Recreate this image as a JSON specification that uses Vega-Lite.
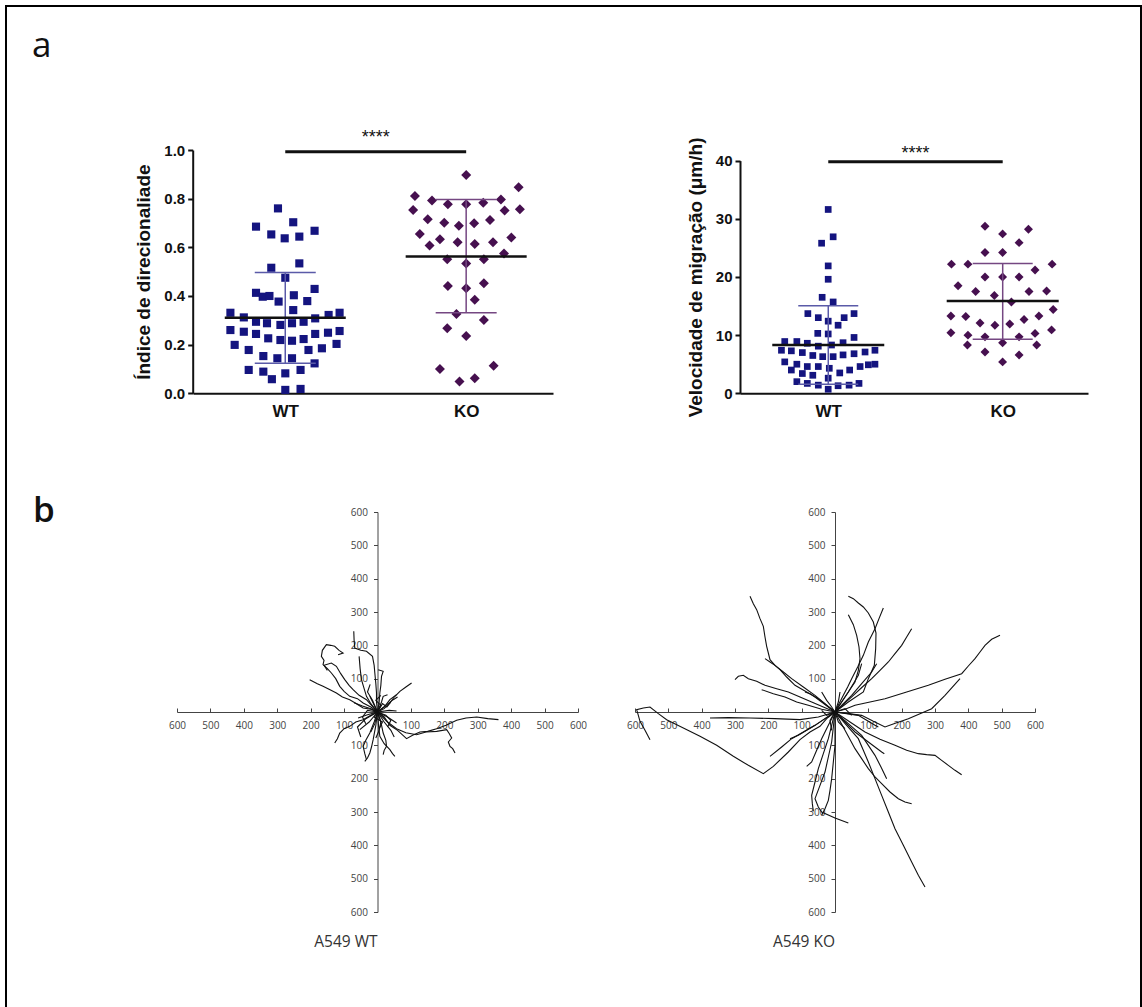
{
"$schema": "https://vega.github.io/schema/vega-lite/v6.json",
"width": 1135, "height": 1010,
"padding": {"left": 6, "top": 6, "right": 1, "bottom": 0},
"autosize": {"type": "none"},
"background": "white",
"config": {"view": {"stroke": "black", "strokeWidth": 2}, "font": "Liberation Sans", "axis": {"grid": false}},
"datasets": {
"a1": [
{"g":"WT","gi":1,"j":-0.12,"v":0.760},{"g":"WT","gi":1,"j":-0.48,"v":0.685},{"g":"WT","gi":1,"j":0.13,"v":0.703},{"g":"WT","gi":1,"j":0.48,"v":0.668},{"g":"WT","gi":1,"j":-0.23,"v":0.653},{"g":"WT","gi":1,"j":-0.01,"v":0.637},{"g":"WT","gi":1,"j":0.23,"v":0.644},{"g":"WT","gi":1,"j":-0.23,"v":0.516},{"g":"WT","gi":1,"j":0.23,"v":0.534},{"g":"WT","gi":1,"j":0.0,"v":0.475},
{"g":"WT","gi":1,"j":-0.48,"v":0.413},{"g":"WT","gi":1,"j":-0.37,"v":0.397},{"g":"WT","gi":1,"j":-0.26,"v":0.400},{"g":"WT","gi":1,"j":-0.11,"v":0.377},{"g":"WT","gi":1,"j":0.14,"v":0.403},{"g":"WT","gi":1,"j":0.48,"v":0.429},{"g":"WT","gi":1,"j":0.36,"v":0.379},{"g":"WT","gi":1,"j":0.13,"v":0.342},{"g":"WT","gi":1,"j":-0.90,"v":0.331},{"g":"WT","gi":1,"j":-0.68,"v":0.312},
{"g":"WT","gi":1,"j":-0.48,"v":0.294},{"g":"WT","gi":1,"j":-0.30,"v":0.288},{"g":"WT","gi":1,"j":-0.08,"v":0.281},{"g":"WT","gi":1,"j":0.11,"v":0.288},{"g":"WT","gi":1,"j":0.30,"v":0.294},{"g":"WT","gi":1,"j":0.49,"v":0.308},{"g":"WT","gi":1,"j":0.71,"v":0.322},{"g":"WT","gi":1,"j":0.89,"v":0.331},{"g":"WT","gi":1,"j":-0.90,"v":0.260},{"g":"WT","gi":1,"j":-0.68,"v":0.253},
{"g":"WT","gi":1,"j":-0.48,"v":0.244},{"g":"WT","gi":1,"j":-0.28,"v":0.226},{"g":"WT","gi":1,"j":-0.08,"v":0.219},{"g":"WT","gi":1,"j":0.11,"v":0.216},{"g":"WT","gi":1,"j":0.30,"v":0.223},{"g":"WT","gi":1,"j":0.49,"v":0.244},{"g":"WT","gi":1,"j":0.70,"v":0.249},{"g":"WT","gi":1,"j":0.89,"v":0.256},{"g":"WT","gi":1,"j":-0.83,"v":0.199},{"g":"WT","gi":1,"j":-0.60,"v":0.178},
{"g":"WT","gi":1,"j":0.38,"v":0.178},{"g":"WT","gi":1,"j":0.60,"v":0.185},{"g":"WT","gi":1,"j":0.84,"v":0.203},{"g":"WT","gi":1,"j":-0.36,"v":0.153},{"g":"WT","gi":1,"j":-0.13,"v":0.144},{"g":"WT","gi":1,"j":0.11,"v":0.144},{"g":"WT","gi":1,"j":0.48,"v":0.123},{"g":"WT","gi":1,"j":-0.60,"v":0.096},{"g":"WT","gi":1,"j":-0.36,"v":0.089},{"g":"WT","gi":1,"j":-0.22,"v":0.058},
{"g":"WT","gi":1,"j":0.0,"v":0.082},{"g":"WT","gi":1,"j":0.25,"v":0.096},{"g":"WT","gi":1,"j":0.0,"v":0.014},{"g":"WT","gi":1,"j":0.25,"v":0.018},
{"g":"KO","gi":2,"j":0.0,"v":0.897},{"g":"KO","gi":2,"j":0.86,"v":0.847},{"g":"KO","gi":2,"j":-0.84,"v":0.811},{"g":"KO","gi":2,"j":-0.56,"v":0.792},{"g":"KO","gi":2,"j":-0.30,"v":0.777},{"g":"KO","gi":2,"j":0.0,"v":0.777},{"g":"KO","gi":2,"j":0.28,"v":0.783},{"g":"KO","gi":2,"j":0.57,"v":0.797},{"g":"KO","gi":2,"j":-0.87,"v":0.753},{"g":"KO","gi":2,"j":0.63,"v":0.751},
{"g":"KO","gi":2,"j":0.88,"v":0.756},{"g":"KO","gi":2,"j":-0.63,"v":0.715},{"g":"KO","gi":2,"j":-0.36,"v":0.701},{"g":"KO","gi":2,"j":-0.12,"v":0.689},{"g":"KO","gi":2,"j":0.13,"v":0.699},{"g":"KO","gi":2,"j":0.39,"v":0.712},{"g":"KO","gi":2,"j":-0.76,"v":0.655},{"g":"KO","gi":2,"j":-0.60,"v":0.607},{"g":"KO","gi":2,"j":-0.43,"v":0.633},{"g":"KO","gi":2,"j":-0.14,"v":0.621},
{"g":"KO","gi":2,"j":0.14,"v":0.614},{"g":"KO","gi":2,"j":0.44,"v":0.621},{"g":"KO","gi":2,"j":0.74,"v":0.640},{"g":"KO","gi":2,"j":0.62,"v":0.575},{"g":"KO","gi":2,"j":-0.31,"v":0.551},{"g":"KO","gi":2,"j":0.0,"v":0.534},{"g":"KO","gi":2,"j":0.29,"v":0.551},{"g":"KO","gi":2,"j":-0.30,"v":0.441},{"g":"KO","gi":2,"j":0.0,"v":0.432},{"g":"KO","gi":2,"j":0.29,"v":0.452},
{"g":"KO","gi":2,"j":0.14,"v":0.384},{"g":"KO","gi":2,"j":-0.16,"v":0.326},{"g":"KO","gi":2,"j":0.29,"v":0.301},{"g":"KO","gi":2,"j":-0.31,"v":0.267},{"g":"KO","gi":2,"j":0.0,"v":0.236},{"g":"KO","gi":2,"j":-0.43,"v":0.100},{"g":"KO","gi":2,"j":0.45,"v":0.113},{"g":"KO","gi":2,"j":-0.11,"v":0.048},{"g":"KO","gi":2,"j":0.14,"v":0.062}
],
"a2": [
{"g":"WT","gi":1,"j":0.0,"v":31.6},{"g":"WT","gi":1,"j":0.09,"v":26.9},{"g":"WT","gi":1,"j":-0.12,"v":25.8},{"g":"WT","gi":1,"j":0.0,"v":21.9},{"g":"WT","gi":1,"j":0.0,"v":19.6},{"g":"WT","gi":1,"j":-0.11,"v":16.5},{"g":"WT","gi":1,"j":0.09,"v":15.7},{"g":"WT","gi":1,"j":-0.37,"v":13.7},{"g":"WT","gi":1,"j":-0.18,"v":13.0},{"g":"WT","gi":1,"j":0.0,"v":12.4},
{"g":"WT","gi":1,"j":0.18,"v":11.7},{"g":"WT","gi":1,"j":0.29,"v":13.0},{"g":"WT","gi":1,"j":0.47,"v":13.7},{"g":"WT","gi":1,"j":-0.19,"v":10.3},{"g":"WT","gi":1,"j":0.0,"v":10.2},{"g":"WT","gi":1,"j":-0.79,"v":8.9},{"g":"WT","gi":1,"j":-0.57,"v":8.9},{"g":"WT","gi":1,"j":-0.38,"v":8.6},{"g":"WT","gi":1,"j":-0.18,"v":8.1},{"g":"WT","gi":1,"j":0.06,"v":8.3},
{"g":"WT","gi":1,"j":0.27,"v":8.7},{"g":"WT","gi":1,"j":0.47,"v":9.6},{"g":"WT","gi":1,"j":-0.85,"v":7.4},{"g":"WT","gi":1,"j":-0.67,"v":7.3},{"g":"WT","gi":1,"j":-0.47,"v":7.0},{"g":"WT","gi":1,"j":-0.28,"v":6.5},{"g":"WT","gi":1,"j":-0.10,"v":6.3},{"g":"WT","gi":1,"j":0.09,"v":6.3},{"g":"WT","gi":1,"j":0.27,"v":6.6},{"g":"WT","gi":1,"j":0.47,"v":6.8},
{"g":"WT","gi":1,"j":0.67,"v":7.1},{"g":"WT","gi":1,"j":0.85,"v":7.4},{"g":"WT","gi":1,"j":-0.79,"v":5.4},{"g":"WT","gi":1,"j":-0.57,"v":5.0},{"g":"WT","gi":1,"j":-0.38,"v":4.6},{"g":"WT","gi":1,"j":-0.18,"v":4.6},{"g":"WT","gi":1,"j":0.02,"v":4.3},{"g":"WT","gi":1,"j":0.21,"v":3.5},{"g":"WT","gi":1,"j":0.39,"v":4.0},{"g":"WT","gi":1,"j":0.58,"v":4.6},
{"g":"WT","gi":1,"j":0.73,"v":4.9},{"g":"WT","gi":1,"j":0.85,"v":5.0},{"g":"WT","gi":1,"j":-0.67,"v":4.0},{"g":"WT","gi":1,"j":-0.47,"v":3.4},{"g":"WT","gi":1,"j":-0.28,"v":3.1},{"g":"WT","gi":1,"j":0.0,"v":2.6},{"g":"WT","gi":1,"j":-0.57,"v":2.0},{"g":"WT","gi":1,"j":-0.38,"v":1.7},{"g":"WT","gi":1,"j":-0.18,"v":1.4},{"g":"WT","gi":1,"j":0.0,"v":0.7},
{"g":"WT","gi":1,"j":0.18,"v":1.3},{"g":"WT","gi":1,"j":0.38,"v":1.4},{"g":"WT","gi":1,"j":0.56,"v":1.7},
{"g":"KO","gi":2,"j":-0.32,"v":28.7},{"g":"KO","gi":2,"j":0.47,"v":28.2},{"g":"KO","gi":2,"j":0.0,"v":27.4},{"g":"KO","gi":2,"j":0.30,"v":25.9},{"g":"KO","gi":2,"j":-0.32,"v":24.2},{"g":"KO","gi":2,"j":0.0,"v":24.2},{"g":"KO","gi":2,"j":-0.93,"v":22.2},{"g":"KO","gi":2,"j":-0.63,"v":22.2},{"g":"KO","gi":2,"j":0.90,"v":22.2},{"g":"KO","gi":2,"j":0.59,"v":21.2},
{"g":"KO","gi":2,"j":-0.32,"v":20.0},{"g":"KO","gi":2,"j":0.0,"v":20.0},{"g":"KO","gi":2,"j":0.30,"v":20.0},{"g":"KO","gi":2,"j":-0.81,"v":18.5},{"g":"KO","gi":2,"j":-0.49,"v":17.5},{"g":"KO","gi":2,"j":-0.15,"v":16.8},{"g":"KO","gi":2,"j":0.48,"v":17.5},{"g":"KO","gi":2,"j":0.80,"v":17.6},{"g":"KO","gi":2,"j":0.16,"v":15.7},{"g":"KO","gi":2,"j":0.92,"v":14.4},
{"g":"KO","gi":2,"j":-0.94,"v":13.3},{"g":"KO","gi":2,"j":-0.67,"v":13.2},{"g":"KO","gi":2,"j":-0.41,"v":12.1},{"g":"KO","gi":2,"j":-0.14,"v":11.7},{"g":"KO","gi":2,"j":0.13,"v":11.9},{"g":"KO","gi":2,"j":0.39,"v":12.7},{"g":"KO","gi":2,"j":0.66,"v":13.3},{"g":"KO","gi":2,"j":0.89,"v":10.9},{"g":"KO","gi":2,"j":-0.94,"v":10.4},{"g":"KO","gi":2,"j":-0.63,"v":10.0},
{"g":"KO","gi":2,"j":-0.32,"v":9.7},{"g":"KO","gi":2,"j":0.0,"v":8.7},{"g":"KO","gi":2,"j":0.30,"v":9.7},{"g":"KO","gi":2,"j":0.59,"v":10.3},{"g":"KO","gi":2,"j":-0.64,"v":8.3},{"g":"KO","gi":2,"j":0.62,"v":8.3},{"g":"KO","gi":2,"j":-0.32,"v":7.1},{"g":"KO","gi":2,"j":0.30,"v":6.6},{"g":"KO","gi":2,"j":0.0,"v":5.4}
],
"a1s": [{"g":"WT","gi":1,"m":0.311,"lo":0.123,"hi":0.497},{"g":"KO","gi":2,"m":0.562,"lo":0.331,"hi":0.797}],
"a2s": [{"g":"WT","gi":1,"m":8.3,"lo":1.55,"hi":15.05},{"g":"KO","gi":2,"m":15.86,"lo":9.3,"hi":22.3}],
"wt": [
{"t":1,"s":1,"x":0,"y":0},{"t":1,"s":2,"x":20,"y":-15},{"t":1,"s":3,"x":37,"y":-40},{"t":1,"s":4,"x":60,"y":-55},{"t":1,"s":5,"x":87,"y":-80},{"t":1,"s":6,"x":105,"y":-70},{"t":1,"s":7,"x":127,"y":-60},{"t":1,"s":8,"x":150,"y":-58},{"t":1,"s":9,"x":177,"y":-50},{"t":1,"s":10,"x":205,"y":-40},{"t":1,"s":11,"x":237,"y":-25},{"t":1,"s":12,"x":265,"y":-18},{"t":1,"s":13,"x":297,"y":-15},{"t":1,"s":14,"x":330,"y":-20},{"t":1,"s":15,"x":362,"y":-23},
{"t":2,"s":1,"x":0,"y":0},{"t":2,"s":2,"x":30,"y":-30},{"t":2,"s":3,"x":57,"y":-50},{"t":2,"s":4,"x":85,"y":-62},{"t":2,"s":5,"x":117,"y":-68},{"t":2,"s":6,"x":145,"y":-60},{"t":2,"s":7,"x":177,"y":-58},{"t":2,"s":8,"x":207,"y":-53},{"t":2,"s":9,"x":215,"y":-65},{"t":2,"s":10,"x":222,"y":-78},{"t":2,"s":11,"x":212,"y":-90},{"t":2,"s":12,"x":217,"y":-103},{"t":2,"s":13,"x":225,"y":-110},{"t":2,"s":14,"x":232,"y":-123},
{"t":3,"s":1,"x":0,"y":0},{"t":3,"s":2,"x":-20,"y":15},{"t":3,"s":3,"x":-43,"y":27},{"t":3,"s":4,"x":-60,"y":40},{"t":3,"s":5,"x":-83,"y":47},{"t":3,"s":6,"x":-100,"y":62},{"t":3,"s":7,"x":-113,"y":77},{"t":3,"s":8,"x":-125,"y":100},{"t":3,"s":9,"x":-138,"y":117},{"t":3,"s":10,"x":-150,"y":130},{"t":3,"s":11,"x":-163,"y":142},{"t":3,"s":12,"x":-160,"y":155},{"t":3,"s":13,"x":-168,"y":167},{"t":3,"s":14,"x":-165,"y":185},{"t":3,"s":15,"x":-153,"y":202},{"t":3,"s":16,"x":-140,"y":200},{"t":3,"s":17,"x":-128,"y":197},{"t":3,"s":18,"x":-115,"y":185},{"t":3,"s":19,"x":-103,"y":177},{"t":3,"s":20,"x":-118,"y":172},
{"t":4,"s":1,"x":0,"y":0},{"t":4,"s":2,"x":-18,"y":20},{"t":4,"s":3,"x":-33,"y":37},{"t":4,"s":4,"x":-55,"y":50},{"t":4,"s":5,"x":-73,"y":67},{"t":4,"s":6,"x":-85,"y":80},{"t":4,"s":7,"x":-98,"y":97},{"t":4,"s":8,"x":-110,"y":115},{"t":4,"s":9,"x":-123,"y":137},{"t":4,"s":10,"x":-138,"y":147},{"t":4,"s":11,"x":-160,"y":140},{"t":4,"s":12,"x":-150,"y":125},
{"t":5,"s":1,"x":0,"y":0},{"t":5,"s":2,"x":-3,"y":30},{"t":5,"s":3,"x":-3,"y":57},{"t":5,"s":4,"x":-5,"y":85},{"t":5,"s":5,"x":-8,"y":117},{"t":5,"s":6,"x":-10,"y":140},{"t":5,"s":7,"x":-15,"y":167},{"t":5,"s":8,"x":-33,"y":182},{"t":5,"s":9,"x":-50,"y":185},{"t":5,"s":10,"x":-68,"y":192},{"t":5,"s":11,"x":-70,"y":215},{"t":5,"s":12,"x":-71,"y":242},
{"t":6,"s":1,"x":0,"y":0},{"t":6,"s":2,"x":-20,"y":25},{"t":6,"s":3,"x":-33,"y":47},{"t":6,"s":4,"x":-40,"y":70},{"t":6,"s":5,"x":-48,"y":97},{"t":6,"s":6,"x":-52,"y":130},{"t":6,"s":7,"x":-55,"y":167},
{"t":7,"s":1,"x":0,"y":0},{"t":7,"s":2,"x":5,"y":30},{"t":7,"s":3,"x":7,"y":57},{"t":7,"s":4,"x":10,"y":80},{"t":7,"s":5,"x":12,"y":107},{"t":7,"s":6,"x":17,"y":122},{"t":7,"s":7,"x":2,"y":127},
{"t":8,"s":1,"x":0,"y":0},{"t":8,"s":2,"x":20,"y":10},{"t":8,"s":3,"x":37,"y":27},{"t":8,"s":4,"x":50,"y":45},{"t":8,"s":5,"x":67,"y":62},{"t":8,"s":6,"x":85,"y":75},{"t":8,"s":7,"x":102,"y":87},
{"t":9,"s":1,"x":0,"y":0},{"t":9,"s":2,"x":20,"y":15},{"t":9,"s":3,"x":37,"y":37},{"t":9,"s":4,"x":57,"y":52},
{"t":10,"s":1,"x":0,"y":0},{"t":10,"s":2,"x":-20,"y":-10},{"t":10,"s":3,"x":-43,"y":-23},{"t":10,"s":4,"x":-65,"y":-30},{"t":10,"s":5,"x":-83,"y":-43},{"t":10,"s":6,"x":-100,"y":-50},{"t":10,"s":7,"x":-113,"y":-63},{"t":10,"s":8,"x":-120,"y":-80},{"t":10,"s":9,"x":-128,"y":-93},
{"t":11,"s":1,"x":0,"y":0},{"t":11,"s":2,"x":-20,"y":8},{"t":11,"s":3,"x":-43,"y":12},{"t":11,"s":4,"x":-63,"y":25},{"t":11,"s":5,"x":-83,"y":37},{"t":11,"s":6,"x":-105,"y":45},{"t":11,"s":7,"x":-123,"y":57},{"t":11,"s":8,"x":-145,"y":68},{"t":11,"s":9,"x":-163,"y":77},{"t":11,"s":10,"x":-180,"y":85},{"t":11,"s":11,"x":-203,"y":97},
{"t":12,"s":1,"x":0,"y":0},{"t":12,"s":2,"x":-10,"y":-30},{"t":12,"s":3,"x":-23,"y":-63},{"t":12,"s":4,"x":-35,"y":-85},{"t":12,"s":5,"x":-43,"y":-103},{"t":12,"s":6,"x":-38,"y":-125},{"t":12,"s":7,"x":-33,"y":-143},
{"t":13,"s":1,"x":0,"y":0},{"t":13,"s":2,"x":-5,"y":-40},{"t":13,"s":3,"x":-13,"y":-83},{"t":13,"s":4,"x":-18,"y":-105},{"t":13,"s":5,"x":-23,"y":-123},{"t":13,"s":6,"x":-30,"y":-138},{"t":13,"s":7,"x":-38,"y":-148},
{"t":14,"s":1,"x":0,"y":0},{"t":14,"s":2,"x":10,"y":-30},{"t":14,"s":3,"x":17,"y":-63},{"t":14,"s":4,"x":25,"y":-85},{"t":14,"s":5,"x":27,"y":-103},{"t":14,"s":6,"x":20,"y":-115},{"t":14,"s":7,"x":17,"y":-128},
{"t":15,"s":1,"x":0,"y":0},{"t":15,"s":2,"x":3,"y":-40},{"t":15,"s":3,"x":7,"y":-73},{"t":15,"s":4,"x":20,"y":-95},{"t":15,"s":5,"x":37,"y":-113},{"t":15,"s":6,"x":45,"y":-125},{"t":15,"s":7,"x":52,"y":-133},
{"t":16,"s":1,"x":0,"y":0},{"t":16,"s":2,"x":25,"y":20},{"t":16,"s":3,"x":47,"y":37},{"t":16,"s":4,"x":60,"y":45},
{"t":17,"s":1,"x":0,"y":0},{"t":17,"s":2,"x":30,"y":-15},{"t":17,"s":3,"x":57,"y":-33},
{"t":18,"s":1,"x":0,"y":0},{"t":18,"s":2,"x":-25,"y":-30},{"t":18,"s":3,"x":-53,"y":-53},
{"t":19,"s":1,"x":0,"y":0},{"t":19,"s":2,"x":-12,"y":25},{"t":19,"s":3,"x":-23,"y":47},
{"t":20,"s":1,"x":0,"y":0},{"t":20,"s":2,"x":12,"y":30},{"t":20,"s":3,"x":17,"y":47},{"t":20,"s":4,"x":30,"y":52},
{"t":21,"s":1,"x":0,"y":0},{"t":21,"s":2,"x":35,"y":5},{"t":21,"s":3,"x":57,"y":3},
{"t":22,"s":1,"x":0,"y":0},{"t":22,"s":2,"x":-30,"y":-8},{"t":22,"s":3,"x":-58,"y":-18},
{"t":23,"s":1,"x":0,"y":0},{"t":23,"s":2,"x":-20,"y":10},{"t":23,"s":3,"x":-45,"y":18},{"t":23,"s":4,"x":-70,"y":28},
{"t":24,"s":1,"x":0,"y":0},{"t":24,"s":2,"x":10,"y":-30},{"t":24,"s":3,"x":5,"y":-55},{"t":24,"s":4,"x":-5,"y":-78},
{"t":25,"s":1,"x":0,"y":0},{"t":25,"s":2,"x":-8,"y":-35},{"t":25,"s":3,"x":-20,"y":-60},
{"t":26,"s":1,"x":0,"y":0},{"t":26,"s":2,"x":20,"y":-30},{"t":26,"s":3,"x":40,"y":-55},{"t":26,"s":4,"x":50,"y":-75},
{"t":27,"s":1,"x":0,"y":0},{"t":27,"s":2,"x":-35,"y":-20},{"t":27,"s":3,"x":-60,"y":-45},{"t":27,"s":4,"x":-50,"y":-75},
{"t":28,"s":1,"x":0,"y":0},{"t":28,"s":2,"x":15,"y":25},{"t":28,"s":3,"x":28,"y":15},{"t":28,"s":4,"x":40,"y":30},
{"t":29,"s":1,"x":0,"y":0},{"t":29,"s":2,"x":-15,"y":35},{"t":29,"s":3,"x":-30,"y":60},{"t":29,"s":4,"x":-22,"y":83},
{"t":30,"s":1,"x":0,"y":0},{"t":30,"s":2,"x":25,"y":-10},{"t":30,"s":3,"x":40,"y":-25},{"t":30,"s":4,"x":30,"y":-45},
{"t":31,"s":1,"x":0,"y":0},{"t":31,"s":2,"x":-30,"y":5},{"t":31,"s":3,"x":-45,"y":-15},{"t":31,"s":4,"x":-35,"y":-35},
{"t":32,"s":1,"x":0,"y":0},{"t":32,"s":2,"x":10,"y":20},{"t":32,"s":3,"x":-5,"y":35},{"t":32,"s":4,"x":10,"y":50},
{"t":33,"s":1,"x":0,"y":0},{"t":33,"s":2,"x":-10,"y":-15},{"t":33,"s":3,"x":15,"y":-30},{"t":33,"s":4,"x":5,"y":-50}
],
"ko": [
{"t":1,"s":1,"x":0,"y":0},{"t":1,"s":2,"x":-25,"y":-20},{"t":1,"s":3,"x":-45,"y":-43},{"t":1,"s":4,"x":-75,"y":-60},{"t":1,"s":5,"x":-105,"y":-83},{"t":1,"s":6,"x":-140,"y":-120},{"t":1,"s":7,"x":-185,"y":-163},{"t":1,"s":8,"x":-215,"y":-185},{"t":1,"s":9,"x":-260,"y":-160},{"t":1,"s":10,"x":-305,"y":-133},{"t":1,"s":11,"x":-355,"y":-100},{"t":1,"s":12,"x":-405,"y":-73},{"t":1,"s":13,"x":-455,"y":-48},{"t":1,"s":14,"x":-505,"y":-23},{"t":1,"s":15,"x":-530,"y":-5},{"t":1,"s":16,"x":-555,"y":15},{"t":1,"s":17,"x":-575,"y":12},{"t":1,"s":18,"x":-595,"y":7},{"t":1,"s":19,"x":-590,"y":-10},{"t":1,"s":20,"x":-585,"y":-28},{"t":1,"s":21,"x":-570,"y":-55},{"t":1,"s":22,"x":-555,"y":-83},
{"t":2,"s":1,"x":0,"y":0},{"t":2,"s":2,"x":-50,"y":-15},{"t":2,"s":3,"x":-105,"y":-23},{"t":2,"s":4,"x":-180,"y":-20},{"t":2,"s":5,"x":-255,"y":-18},{"t":2,"s":6,"x":-320,"y":-17},{"t":2,"s":7,"x":-375,"y":-18},
{"t":3,"s":1,"x":0,"y":0},{"t":3,"s":2,"x":-25,"y":20},{"t":3,"s":3,"x":-50,"y":40},{"t":3,"s":4,"x":-85,"y":60},{"t":3,"s":5,"x":-120,"y":80},{"t":3,"s":6,"x":-145,"y":105},{"t":3,"s":7,"x":-165,"y":127},{"t":3,"s":8,"x":-180,"y":140},{"t":3,"s":9,"x":-195,"y":157},{"t":3,"s":10,"x":-200,"y":177},{"t":3,"s":11,"x":-205,"y":197},{"t":3,"s":12,"x":-210,"y":225},{"t":3,"s":13,"x":-215,"y":257},{"t":3,"s":14,"x":-225,"y":280},{"t":3,"s":15,"x":-235,"y":307},{"t":3,"s":16,"x":-245,"y":325},{"t":3,"s":17,"x":-255,"y":347},
{"t":4,"s":1,"x":0,"y":0},{"t":4,"s":2,"x":-35,"y":15},{"t":4,"s":3,"x":-70,"y":30},{"t":4,"s":4,"x":-105,"y":45},{"t":4,"s":5,"x":-140,"y":60},{"t":4,"s":6,"x":-175,"y":70},{"t":4,"s":7,"x":-210,"y":80},{"t":4,"s":8,"x":-235,"y":92},{"t":4,"s":9,"x":-260,"y":100},{"t":4,"s":10,"x":-275,"y":110},{"t":4,"s":11,"x":-290,"y":107},{"t":4,"s":12,"x":-300,"y":97},
{"t":5,"s":1,"x":0,"y":0},{"t":5,"s":2,"x":-40,"y":8},{"t":5,"s":3,"x":-80,"y":20},{"t":5,"s":4,"x":-115,"y":30},{"t":5,"s":5,"x":-150,"y":45},{"t":5,"s":6,"x":-185,"y":55},{"t":5,"s":7,"x":-220,"y":67},
{"t":6,"s":1,"x":0,"y":0},{"t":6,"s":2,"x":-20,"y":15},{"t":6,"s":3,"x":-40,"y":30},{"t":6,"s":4,"x":-60,"y":45},{"t":6,"s":5,"x":-75,"y":55},{"t":6,"s":6,"x":-90,"y":60},
{"t":7,"s":1,"x":0,"y":0},{"t":7,"s":2,"x":-30,"y":25},{"t":7,"s":3,"x":-60,"y":50},{"t":7,"s":4,"x":-95,"y":75},{"t":7,"s":5,"x":-130,"y":100},{"t":7,"s":6,"x":-155,"y":120},{"t":7,"s":7,"x":-180,"y":140},{"t":7,"s":8,"x":-195,"y":150},{"t":7,"s":9,"x":-210,"y":160},
{"t":8,"s":1,"x":0,"y":0},{"t":8,"s":2,"x":40,"y":30},{"t":8,"s":3,"x":85,"y":60},{"t":8,"s":4,"x":100,"y":100},{"t":8,"s":5,"x":118,"y":140},{"t":8,"s":6,"x":122,"y":190},{"t":8,"s":7,"x":123,"y":237},{"t":8,"s":8,"x":115,"y":270},{"t":8,"s":9,"x":100,"y":297},{"t":8,"s":10,"x":85,"y":315},{"t":8,"s":11,"x":70,"y":327},{"t":8,"s":12,"x":55,"y":340},{"t":8,"s":13,"x":40,"y":347},
{"t":9,"s":1,"x":0,"y":0},{"t":9,"s":2,"x":30,"y":45},{"t":9,"s":3,"x":60,"y":90},{"t":9,"s":4,"x":70,"y":125},{"t":9,"s":5,"x":75,"y":160},{"t":9,"s":6,"x":72,"y":195},{"t":9,"s":7,"x":65,"y":230},{"t":9,"s":8,"x":55,"y":262},{"t":9,"s":9,"x":40,"y":292},
{"t":10,"s":1,"x":0,"y":0},{"t":10,"s":2,"x":12,"y":25},{"t":10,"s":3,"x":25,"y":50},{"t":10,"s":4,"x":38,"y":75},{"t":10,"s":5,"x":50,"y":100},{"t":10,"s":6,"x":68,"y":135},{"t":10,"s":7,"x":85,"y":170},{"t":10,"s":8,"x":100,"y":210},{"t":10,"s":9,"x":120,"y":250},{"t":10,"s":10,"x":132,"y":280},{"t":10,"s":11,"x":145,"y":312},
{"t":11,"s":1,"x":0,"y":0},{"t":11,"s":2,"x":28,"y":25},{"t":11,"s":3,"x":55,"y":50},{"t":11,"s":4,"x":82,"y":75},{"t":11,"s":5,"x":110,"y":100},{"t":11,"s":6,"x":135,"y":125},{"t":11,"s":7,"x":160,"y":150},{"t":11,"s":8,"x":180,"y":175},{"t":11,"s":9,"x":200,"y":200},{"t":11,"s":10,"x":215,"y":225},{"t":11,"s":11,"x":230,"y":250},
{"t":12,"s":1,"x":0,"y":0},{"t":12,"s":2,"x":30,"y":8},{"t":12,"s":3,"x":60,"y":20},{"t":12,"s":4,"x":105,"y":30},{"t":12,"s":5,"x":150,"y":40},{"t":12,"s":6,"x":215,"y":60},{"t":12,"s":7,"x":280,"y":80},{"t":12,"s":8,"x":330,"y":98},{"t":12,"s":9,"x":380,"y":115},{"t":12,"s":10,"x":400,"y":138},{"t":12,"s":11,"x":420,"y":160},{"t":12,"s":12,"x":435,"y":180},{"t":12,"s":13,"x":450,"y":200},{"t":12,"s":14,"x":470,"y":218},{"t":12,"s":15,"x":495,"y":230},
{"t":13,"s":1,"x":0,"y":0},{"t":13,"s":2,"x":40,"y":-5},{"t":13,"s":3,"x":80,"y":-10},{"t":13,"s":4,"x":115,"y":-28},{"t":13,"s":5,"x":150,"y":-45},{"t":13,"s":6,"x":185,"y":-32},{"t":13,"s":7,"x":220,"y":-20},{"t":13,"s":8,"x":255,"y":-5},{"t":13,"s":9,"x":290,"y":10},{"t":13,"s":10,"x":330,"y":50},{"t":13,"s":11,"x":375,"y":100},
{"t":14,"s":1,"x":0,"y":0},{"t":14,"s":2,"x":45,"y":-30},{"t":14,"s":3,"x":90,"y":-60},{"t":14,"s":4,"x":135,"y":-82},{"t":14,"s":5,"x":180,"y":-100},{"t":14,"s":6,"x":215,"y":-115},{"t":14,"s":7,"x":250,"y":-125},{"t":14,"s":8,"x":275,"y":-128},{"t":14,"s":9,"x":300,"y":-130},{"t":14,"s":10,"x":320,"y":-145},{"t":14,"s":11,"x":340,"y":-160},{"t":14,"s":12,"x":360,"y":-175},{"t":14,"s":13,"x":380,"y":-188},
{"t":15,"s":1,"x":0,"y":0},{"t":15,"s":2,"x":30,"y":-55},{"t":15,"s":3,"x":60,"y":-110},{"t":15,"s":4,"x":80,"y":-140},{"t":15,"s":5,"x":100,"y":-170},{"t":15,"s":6,"x":120,"y":-195},{"t":15,"s":7,"x":140,"y":-215},{"t":15,"s":8,"x":165,"y":-240},{"t":15,"s":9,"x":190,"y":-260},{"t":15,"s":10,"x":210,"y":-270},{"t":15,"s":11,"x":230,"y":-275},
{"t":16,"s":1,"x":0,"y":0},{"t":16,"s":2,"x":35,"y":-40},{"t":16,"s":3,"x":70,"y":-80},{"t":16,"s":4,"x":85,"y":-115},{"t":16,"s":5,"x":100,"y":-150},{"t":16,"s":6,"x":120,"y":-200},{"t":16,"s":7,"x":140,"y":-250},{"t":16,"s":8,"x":160,"y":-300},{"t":16,"s":9,"x":180,"y":-350},{"t":16,"s":10,"x":205,"y":-400},{"t":16,"s":11,"x":230,"y":-450},{"t":16,"s":12,"x":250,"y":-490},{"t":16,"s":13,"x":270,"y":-525},
{"t":17,"s":1,"x":0,"y":0},{"t":17,"s":2,"x":40,"y":-35},{"t":17,"s":3,"x":80,"y":-70},{"t":17,"s":4,"x":100,"y":-100},{"t":17,"s":5,"x":120,"y":-130},{"t":17,"s":6,"x":138,"y":-165},{"t":17,"s":7,"x":155,"y":-200},
{"t":18,"s":1,"x":0,"y":0},{"t":18,"s":2,"x":-10,"y":-40},{"t":18,"s":3,"x":-20,"y":-80},{"t":18,"s":4,"x":-35,"y":-125},{"t":18,"s":5,"x":-50,"y":-170},{"t":18,"s":6,"x":-60,"y":-210},{"t":18,"s":7,"x":-70,"y":-250},{"t":18,"s":8,"x":-68,"y":-275},{"t":18,"s":9,"x":-65,"y":-298},
{"t":19,"s":1,"x":0,"y":0},{"t":19,"s":2,"x":-5,"y":-45},{"t":19,"s":3,"x":-10,"y":-90},{"t":19,"s":4,"x":-20,"y":-135},{"t":19,"s":5,"x":-30,"y":-180},{"t":19,"s":6,"x":-45,"y":-220},{"t":19,"s":7,"x":-60,"y":-260},{"t":19,"s":8,"x":-50,"y":-285},{"t":19,"s":9,"x":-40,"y":-300},{"t":19,"s":10,"x":0,"y":-318},{"t":19,"s":11,"x":40,"y":-333},
{"t":20,"s":1,"x":0,"y":0},{"t":20,"s":2,"x":0,"y":-50},{"t":20,"s":3,"x":0,"y":-100},{"t":20,"s":4,"x":-5,"y":-150},{"t":20,"s":5,"x":-10,"y":-200},{"t":20,"s":6,"x":-15,"y":-235},{"t":20,"s":7,"x":-20,"y":-265},{"t":20,"s":8,"x":-30,"y":-290},{"t":20,"s":9,"x":-40,"y":-310},
{"t":21,"s":1,"x":0,"y":0},{"t":21,"s":2,"x":-30,"y":-20},{"t":21,"s":3,"x":-60,"y":-40},{"t":21,"s":4,"x":-95,"y":-60},{"t":21,"s":5,"x":-130,"y":-80},{"t":21,"s":6,"x":-160,"y":-105},{"t":21,"s":7,"x":-195,"y":-133},
{"t":22,"s":1,"x":0,"y":0},{"t":22,"s":2,"x":-30,"y":-20},{"t":22,"s":3,"x":-60,"y":-40},{"t":22,"s":4,"x":-85,"y":-55},{"t":22,"s":5,"x":-110,"y":-70},{"t":22,"s":6,"x":-135,"y":-80},
{"t":23,"s":1,"x":0,"y":0},{"t":23,"s":2,"x":-20,"y":-40},{"t":23,"s":3,"x":-40,"y":-80},{"t":23,"s":4,"x":-55,"y":-115},{"t":23,"s":5,"x":-70,"y":-150},{"t":23,"s":6,"x":-85,"y":-163},
{"t":24,"s":1,"x":0,"y":0},{"t":24,"s":2,"x":30,"y":-30},{"t":24,"s":3,"x":60,"y":-60},{"t":24,"s":4,"x":100,"y":-90},{"t":24,"s":5,"x":140,"y":-120},{"t":24,"s":6,"x":148,"y":-125},
{"t":25,"s":1,"x":0,"y":0},{"t":25,"s":2,"x":35,"y":-5},{"t":25,"s":3,"x":70,"y":-10},{"t":25,"s":4,"x":95,"y":-25},{"t":25,"s":5,"x":120,"y":-40},{"t":25,"s":6,"x":130,"y":-45},
{"t":26,"s":1,"x":0,"y":0},{"t":26,"s":2,"x":20,"y":30},{"t":26,"s":3,"x":40,"y":60},{"t":26,"s":4,"x":55,"y":85},{"t":26,"s":5,"x":70,"y":110},{"t":26,"s":6,"x":80,"y":145},
{"t":27,"s":1,"x":0,"y":0},{"t":27,"s":2,"x":25,"y":25},{"t":27,"s":3,"x":50,"y":50},{"t":27,"s":4,"x":80,"y":85},{"t":27,"s":5,"x":110,"y":120},{"t":27,"s":6,"x":125,"y":145},
{"t":28,"s":1,"x":0,"y":0},{"t":28,"s":2,"x":-12,"y":18},{"t":28,"s":3,"x":-25,"y":35},{"t":28,"s":4,"x":-40,"y":60},
{"t":29,"s":1,"x":0,"y":0},{"t":29,"s":2,"x":5,"y":15},{"t":29,"s":3,"x":10,"y":30},{"t":29,"s":4,"x":15,"y":60},
{"t":30,"s":1,"x":0,"y":0},{"t":30,"s":2,"x":30,"y":10},{"t":30,"s":3,"x":50,"y":-10},
{"t":31,"s":1,"x":0,"y":0},{"t":31,"s":2,"x":-25,"y":-10},{"t":31,"s":3,"x":-40,"y":5},
{"t":32,"s":1,"x":0,"y":0},{"t":32,"s":2,"x":10,"y":-30},{"t":32,"s":3,"x":30,"y":-50},
{"t":33,"s":1,"x":0,"y":0},{"t":33,"s":2,"x":-15,"y":-25},{"t":33,"s":3,"x":-10,"y":-55}
]
},
"layer": [
{
 "data": {"name": "a1"},
 "mark": {"type": "point", "filled": true, "opacity": 1, "strokeWidth": 0},
 "encoding": {
  "x": {"field": "g", "type": "nominal", "scale": {"type": "band", "domain": ["WT", "KO"], "range": [218.3, 521.1], "paddingInner": 0.326, "paddingOuter": 0}, "axis": null},
  "xOffset": {"field": "j", "type": "quantitative", "scale": {"domain": [-1, 1], "range": [0, 122]}},
  "y": {"field": "v", "type": "quantitative", "scale": {"domain": [0, 1], "range": [387.3, 144], "nice": false, "zero": false}, "axis": null},
  "color": {"field": "g", "type": "nominal", "scale": {"domain": ["WT", "KO"], "range": ["#14147f", "#46104f"]}, "legend": null},
  "shape": {"field": "g", "type": "nominal", "scale": {"domain": ["WT", "KO"], "range": ["square", "diamond"]}, "legend": null},
  "size": {"field": "g", "type": "ordinal", "scale": {"domain": ["WT", "KO"], "range": [66, 100]}, "legend": null}
 }
},
{
 "data": {"name": "a1s"},
 "mark": {"type": "rule", "strokeWidth": 1.5},
 "encoding": {
  "x": {"field": "gi", "type": "quantitative", "scale": {"domain": [0.49, 2.48], "range": [187, 547], "nice": false, "zero": false}, "axis": null},
  "y": {"field": "lo", "type": "quantitative", "scale": {"domain": [0, 1], "range": [387.3, 144], "nice": false, "zero": false}, "axis": null},
  "y2": {"field": "hi"},
  "color": {"field": "g", "type": "nominal", "scale": {"domain": ["WT", "KO"], "range": ["#5a5aa8", "#754782"]}, "legend": null}
 }
},
{
 "data": {"name": "a1s"},
 "mark": {"type": "tick", "orient": "horizontal", "size": 61, "thickness": 1.5, "opacity": 1},
 "encoding": {
  "x": {"field": "gi", "type": "quantitative", "scale": {"domain": [0.49, 2.48], "range": [187, 547], "nice": false, "zero": false}, "axis": null},
  "y": {"field": "hi", "type": "quantitative", "scale": {"domain": [0, 1], "range": [387.3, 144], "nice": false, "zero": false}, "axis": null},
  "color": {"field": "g", "type": "nominal", "scale": {"domain": ["WT", "KO"], "range": ["#5a5aa8", "#754782"]}, "legend": null}
 }
},
{
 "data": {"name": "a1s"},
 "mark": {"type": "tick", "orient": "horizontal", "size": 61, "thickness": 1.5, "opacity": 1},
 "encoding": {
  "x": {"field": "gi", "type": "quantitative", "scale": {"domain": [0.49, 2.48], "range": [187, 547], "nice": false, "zero": false}, "axis": null},
  "y": {"field": "lo", "type": "quantitative", "scale": {"domain": [0, 1], "range": [387.3, 144], "nice": false, "zero": false}, "axis": null},
  "color": {"field": "g", "type": "nominal", "scale": {"domain": ["WT", "KO"], "range": ["#5a5aa8", "#754782"]}, "legend": null}
 }
},
{
 "data": {"name": "a1s"},
 "mark": {"type": "tick", "orient": "horizontal", "size": 121, "thickness": 2.5, "color": "#111", "opacity": 1},
 "encoding": {
  "x": {"field": "gi", "type": "quantitative", "scale": {"domain": [0.49, 2.48], "range": [187, 547], "nice": false, "zero": false},
        "axis": {"orient": "bottom", "offset": -622.7, "values": [1, 2], "labelExpr": "datum.value == 1 ? 'WT' : 'KO'", "ticks": false, "domainWidth": 2, "domainColor": "#111", "labelFontSize": 17, "labelFontWeight": "bold", "labelColor": "#111", "labelPadding": 10, "labelFlush": false, "title": null}},
  "y": {"field": "m", "type": "quantitative", "scale": {"domain": [0, 1], "range": [387.3, 144], "nice": false, "zero": false},
        "axis": {"orient": "left", "offset": -186.7, "values": [0, 0.2, 0.4, 0.6, 0.8, 1], "format": ".1f", "tickSize": 5, "tickWidth": 2, "tickColor": "#111", "domainWidth": 2, "domainColor": "#111", "labelFontSize": 15, "labelFontWeight": "bold", "labelColor": "#111", "labelPadding": 3, "labelFlush": false, "title": "Índice de direcionaliade", "titleFontSize": 19, "titleFontWeight": "bold", "titleColor": "#111", "titlePadding": 10}}
 }
},
{
 "data": {"values": [{"x1": 1, "x2": 2, "y": 0.993}]},
 "mark": {"type": "rule", "strokeWidth": 3, "color": "#111"},
 "encoding": {
  "x": {"field": "x1", "type": "quantitative", "scale": {"domain": [0.49, 2.48], "range": [187, 547], "nice": false, "zero": false}, "axis": null},
  "x2": {"field": "x2"},
  "y": {"field": "y", "type": "quantitative", "scale": {"domain": [0, 1], "range": [387.3, 144], "nice": false, "zero": false}, "axis": null}
 }
},
{
 "data": {"values": [{"x": 1.5, "y": 1.027, "txt": "****"}]},
 "mark": {"type": "text", "baseline": "alphabetic", "align": "center", "fontSize": 18, "color": "#111"},
 "encoding": {
  "x": {"field": "x", "type": "quantitative", "scale": {"domain": [0.49, 2.48], "range": [187, 547], "nice": false, "zero": false}, "axis": null},
  "y": {"field": "y", "type": "quantitative", "scale": {"domain": [0, 1], "range": [387.3, 144], "nice": false, "zero": false}, "axis": null},
  "text": {"field": "txt"}
 }
},
{
 "data": {"values": [{"x": -0.40, "y": 1.382, "txt": "a"}]},
 "mark": {"type": "text", "baseline": "alphabetic", "align": "left", "font": "Open Sans", "fontSize": 35, "color": "#111"},
 "encoding": {
  "x": {"field": "x", "type": "quantitative", "scale": {"domain": [0.49, 2.48], "range": [187, 547], "nice": false, "zero": false}, "axis": null},
  "y": {"field": "y", "type": "quantitative", "scale": {"domain": [0, 1], "range": [387.3, 144], "nice": false, "zero": false}, "axis": null},
  "text": {"field": "txt"}
 }
},
{
 "data": {"name": "a2"},
 "mark": {"type": "point", "filled": true, "opacity": 1, "strokeWidth": 0},
 "encoding": {
  "x": {"field": "g", "type": "nominal", "scale": {"type": "band", "domain": ["WT", "KO"], "range": [767.2, 1051.6], "paddingInner": 0.3693, "paddingOuter": 0}, "axis": null},
  "xOffset": {"field": "j", "type": "quantitative", "scale": {"domain": [-1, 1], "range": [0, 110]}},
  "y": {"field": "v", "type": "quantitative", "scale": {"domain": [0, 40], "range": [387.3, 154.6], "nice": false, "zero": false}, "axis": null},
  "color": {"field": "g", "type": "nominal", "scale": {"domain": ["WT", "KO"], "range": ["#14147f", "#46104f"]}, "legend": null},
  "shape": {"field": "g", "type": "nominal", "scale": {"domain": ["WT", "KO"], "range": ["square", "diamond"]}, "legend": null},
  "size": {"field": "g", "type": "ordinal", "scale": {"domain": ["WT", "KO"], "range": [45, 80]}, "legend": null}
 }
},
{
 "data": {"name": "a2s"},
 "mark": {"type": "rule", "strokeWidth": 1.5},
 "encoding": {
  "x": {"field": "gi", "type": "quantitative", "scale": {"domain": [0.494, 2.489], "range": [734, 1082], "nice": false, "zero": false}, "axis": null},
  "y": {"field": "lo", "type": "quantitative", "scale": {"domain": [0, 40], "range": [387.3, 154.6], "nice": false, "zero": false}, "axis": null},
  "y2": {"field": "hi"},
  "color": {"field": "g", "type": "nominal", "scale": {"domain": ["WT", "KO"], "range": ["#5a5aa8", "#754782"]}, "legend": null}
 }
},
{
 "data": {"name": "a2s"},
 "mark": {"type": "tick", "orient": "horizontal", "size": 60, "thickness": 1.5, "opacity": 1},
 "encoding": {
  "x": {"field": "gi", "type": "quantitative", "scale": {"domain": [0.494, 2.489], "range": [734, 1082], "nice": false, "zero": false}, "axis": null},
  "y": {"field": "hi", "type": "quantitative", "scale": {"domain": [0, 40], "range": [387.3, 154.6], "nice": false, "zero": false}, "axis": null},
  "color": {"field": "g", "type": "nominal", "scale": {"domain": ["WT", "KO"], "range": ["#5a5aa8", "#754782"]}, "legend": null}
 }
},
{
 "data": {"name": "a2s"},
 "mark": {"type": "tick", "orient": "horizontal", "size": 60, "thickness": 1.5, "opacity": 1},
 "encoding": {
  "x": {"field": "gi", "type": "quantitative", "scale": {"domain": [0.494, 2.489], "range": [734, 1082], "nice": false, "zero": false}, "axis": null},
  "y": {"field": "lo", "type": "quantitative", "scale": {"domain": [0, 40], "range": [387.3, 154.6], "nice": false, "zero": false}, "axis": null},
  "color": {"field": "g", "type": "nominal", "scale": {"domain": ["WT", "KO"], "range": ["#5a5aa8", "#754782"]}, "legend": null}
 }
},
{
 "data": {"name": "a2s"},
 "mark": {"type": "tick", "orient": "horizontal", "size": 112, "thickness": 2.5, "color": "#111", "opacity": 1},
 "encoding": {
  "x": {"field": "gi", "type": "quantitative", "scale": {"domain": [0.494, 2.489], "range": [734, 1082], "nice": false, "zero": false},
        "axis": {"orient": "bottom", "offset": -622.7, "values": [1, 2], "labelExpr": "datum.value == 1 ? 'WT' : 'KO'", "ticks": false, "domainWidth": 2, "domainColor": "#111", "labelFontSize": 17, "labelFontWeight": "bold", "labelColor": "#111", "labelPadding": 10, "labelFlush": false, "title": null}},
  "y": {"field": "m", "type": "quantitative", "scale": {"domain": [0, 40], "range": [387.3, 154.6], "nice": false, "zero": false},
        "axis": {"orient": "left", "offset": -734, "values": [0, 10, 20, 30, 40], "tickSize": 5, "tickWidth": 2, "tickColor": "#111", "domainWidth": 2, "domainColor": "#111", "labelFontSize": 15, "labelFontWeight": "bold", "labelColor": "#111", "labelPadding": 3, "labelFlush": false, "title": "Velocidade de migração (μm/h)", "titleFontSize": 19, "titleFontWeight": "bold", "titleColor": "#111", "titlePadding": 10}}
 }
},
{
 "data": {"values": [{"x1": 1, "x2": 2, "y": 39.82}]},
 "mark": {"type": "rule", "strokeWidth": 3, "color": "#111"},
 "encoding": {
  "x": {"field": "x1", "type": "quantitative", "scale": {"domain": [0.494, 2.489], "range": [734, 1082], "nice": false, "zero": false}, "axis": null},
  "x2": {"field": "x2"},
  "y": {"field": "y", "type": "quantitative", "scale": {"domain": [0, 40], "range": [387.3, 154.6], "nice": false, "zero": false}, "axis": null}
 }
},
{
 "data": {"values": [{"x": 1.5, "y": 40.33, "txt": "****"}]},
 "mark": {"type": "text", "baseline": "alphabetic", "align": "center", "fontSize": 18, "color": "#111"},
 "encoding": {
  "x": {"field": "x", "type": "quantitative", "scale": {"domain": [0.494, 2.489], "range": [734, 1082], "nice": false, "zero": false}, "axis": null},
  "y": {"field": "y", "type": "quantitative", "scale": {"domain": [0, 40], "range": [387.3, 154.6], "nice": false, "zero": false}, "axis": null},
  "text": {"field": "txt"}
 }
},
{
 "data": {"name": "wt"},
 "mark": {"type": "line", "strokeWidth": 1.1, "color": "#111"},
 "encoding": {
  "x": {"field": "x", "type": "quantitative", "scale": {"domain": [-600, 600], "range": [171, 572], "nice": false, "zero": false},
        "axis": {"orient": "bottom", "offset": -304, "values": [-600, -500, -400, -300, -200, -100, 0, 100, 200, 300, 400, 500, 600], "labelExpr": "datum.value == 0 ? '' : format(abs(datum.value), 'd')", "tickSize": -4, "tickColor": "#444", "domainColor": "#444", "domainWidth": 1, "labelFont": "Open Sans", "labelFontSize": 10, "labelColor": "#444", "labelPadding": 12, "labelOverlap": false, "labelFlush": false, "labelBound": false, "title": null}},
  "y": {"field": "y", "type": "quantitative", "scale": {"domain": [-600, 600], "range": [906, 506], "nice": false, "zero": false},
        "axis": {"orient": "left", "offset": -371.5, "values": [-600, -500, -400, -300, -200, -100, 0, 100, 200, 300, 400, 500, 600], "labelExpr": "datum.value == 0 ? '' : format(abs(datum.value), 'd')", "tickSize": 4, "tickColor": "#444", "domainColor": "#444", "domainWidth": 1, "labelFont": "Open Sans", "labelFontSize": 10, "labelColor": "#444", "labelPadding": 6, "labelOverlap": false, "labelFlush": false, "labelBound": false, "title": null}},
  "detail": {"field": "t", "type": "nominal"},
  "order": {"field": "s", "type": "quantitative"}
 }
},
{
 "data": {"values": [{"x": 0, "y": -704, "txt": "A549 WT"}]},
 "mark": {"type": "text", "baseline": "alphabetic", "align": "right", "font": "Open Sans", "fontSize": 15.5, "color": "#333"},
 "encoding": {
  "x": {"field": "x", "type": "quantitative", "scale": {"domain": [-600, 600], "range": [171, 572], "nice": false, "zero": false}, "axis": null},
  "y": {"field": "y", "type": "quantitative", "scale": {"domain": [-600, 600], "range": [906, 506], "nice": false, "zero": false}, "axis": null},
  "text": {"field": "txt"}
 }
},
{
 "data": {"values": [{"x": -1031, "y": 570, "txt": "b"}]},
 "mark": {"type": "text", "baseline": "alphabetic", "align": "left", "font": "Open Sans", "fontSize": 35, "fontWeight": 600, "color": "#111"},
 "encoding": {
  "x": {"field": "x", "type": "quantitative", "scale": {"domain": [-600, 600], "range": [171, 572], "nice": false, "zero": false}, "axis": null},
  "y": {"field": "y", "type": "quantitative", "scale": {"domain": [-600, 600], "range": [906, 506], "nice": false, "zero": false}, "axis": null},
  "text": {"field": "txt"}
 }
},
{
 "data": {"name": "ko"},
 "mark": {"type": "line", "strokeWidth": 1.1, "color": "#111"},
 "encoding": {
  "x": {"field": "x", "type": "quantitative", "scale": {"domain": [-600, 600], "range": [629, 1029], "nice": false, "zero": false},
        "axis": {"orient": "bottom", "offset": -304, "values": [-600, -500, -400, -300, -200, -100, 0, 100, 200, 300, 400, 500, 600], "labelExpr": "datum.value == 0 ? '' : format(abs(datum.value), 'd')", "tickSize": -4, "tickColor": "#444", "domainColor": "#444", "domainWidth": 1, "labelFont": "Open Sans", "labelFontSize": 10, "labelColor": "#444", "labelPadding": 12, "labelOverlap": false, "labelFlush": false, "labelBound": false, "title": null}},
  "y": {"field": "y", "type": "quantitative", "scale": {"domain": [-600, 600], "range": [906, 506], "nice": false, "zero": false},
        "axis": {"orient": "left", "offset": -829, "values": [-600, -500, -400, -300, -200, -100, 0, 100, 200, 300, 400, 500, 600], "labelExpr": "datum.value == 0 ? '' : format(abs(datum.value), 'd')", "tickSize": 4, "tickColor": "#444", "domainColor": "#444", "domainWidth": 1, "labelFont": "Open Sans", "labelFontSize": 10, "labelColor": "#444", "labelPadding": 6, "labelOverlap": false, "labelFlush": false, "labelBound": false, "title": null}},
  "detail": {"field": "t", "type": "nominal"},
  "order": {"field": "s", "type": "quantitative"}
 }
},
{
 "data": {"values": [{"x": 0, "y": -704, "txt": "A549 KO"}]},
 "mark": {"type": "text", "baseline": "alphabetic", "align": "right", "font": "Open Sans", "fontSize": 15.5, "color": "#333"},
 "encoding": {
  "x": {"field": "x", "type": "quantitative", "scale": {"domain": [-600, 600], "range": [629, 1029], "nice": false, "zero": false}, "axis": null},
  "y": {"field": "y", "type": "quantitative", "scale": {"domain": [-600, 600], "range": [906, 506], "nice": false, "zero": false}, "axis": null},
  "text": {"field": "txt"}
 }
}
],
"resolve": {"scale": {"x": "independent", "y": "independent", "color": "independent", "size": "independent", "shape": "independent", "xOffset": "independent"}, "axis": {"x": "independent", "y": "independent"}}
}
